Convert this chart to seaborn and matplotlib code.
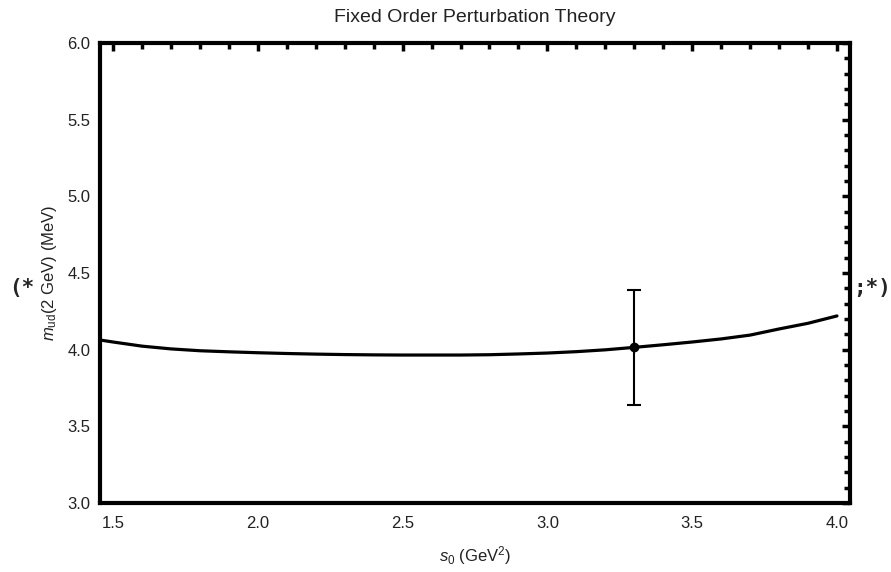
import numpy as np
import pandas as pd
import matplotlib
matplotlib.use("Agg")
import matplotlib.pyplot as plt
import seaborn as sns

# ---- data ----
s0_values = [1.455, 1.5, 1.6, 1.7, 1.8, 1.9, 2.0, 2.1, 2.2, 2.3, 2.4, 2.5, 2.6, 2.7,
             2.8, 2.9, 3.0, 3.1, 3.2, 3.3, 3.4, 3.5, 3.6, 3.7, 3.8, 3.9, 4.0]
m_ud_values = [4.063, 4.05, 4.023, 4.005, 3.993, 3.986, 3.980, 3.975, 3.971, 3.968,
               3.966, 3.965, 3.965, 3.965, 3.967, 3.972, 3.978, 3.987, 3.999, 4.015,
               4.032, 4.05, 4.07, 4.095, 4.135, 4.172, 4.22]
point_s0 = [3.3]
point_m = [4.015]
point_err = [0.375]
x_ticks = [1.5, 2.0, 2.5, 3.0, 3.5, 4.0]
y_ticks = [3.0, 3.5, 4.0, 4.5, 5.0, 5.5, 6.0]

sns.set_style("white")
plt.rcParams['font.family'] = ['Liberation Sans', 'DejaVu Sans']
plt.rcParams['mathtext.fontset'] = 'custom'
plt.rcParams['mathtext.rm'] = 'Liberation Sans'
plt.rcParams['mathtext.it'] = 'Liberation Sans:italic'

fig = plt.figure(figsize=(8.91, 5.72), dpi=100)
ax = fig.add_axes([100/891, 1-503/572, 750/891, 460/572])

df = pd.DataFrame({"s0": s0_values, "m": m_ud_values})
sns.lineplot(data=df, x="s0", y="m", ax=ax, color="black", linewidth=2.3)
ax.errorbar(point_s0, point_m, yerr=point_err, fmt='o', color='black',
            markersize=6, elinewidth=1.5, capsize=5, capthick=1.5)

ax.set_xlim(1.455, 4.045)
ax.set_ylim(3.0, 6.0)
ax.set_xticks(x_ticks)
ax.set_yticks(y_ticks)
ax.set_xticklabels([f"{v:.1f}" for v in x_ticks])
ax.set_yticklabels([f"{v:.1f}" for v in y_ticks])
ax.set_xticks(np.arange(1.5, 4.05, 0.1), minor=True)
ax.set_yticks(np.arange(3.0, 6.01, 0.1), minor=True)
ax.tick_params(which='both', direction='in', top=True, right=True,
               color='black', labelsize=12, labelcolor='#222222')
ax.tick_params(which='major', length=6, width=2.5, pad=7)
ax.tick_params(axis='x', which='major', pad=9)
ax.tick_params(which='minor', length=4.5, width=2.5)
for sp in ax.spines.values():
    sp.set_linewidth(3)
    sp.set_color('black')

ax.set_xlabel(r"$s_0$ (GeV$^2$)", fontsize=12, labelpad=10, color='#222222')
ax.set_ylabel(r"$m_{\mathrm{ud}}$(2 GeV) (MeV)", fontsize=12, labelpad=6, color='#222222')
ax.set_title("Fixed Order Perturbation Theory", fontsize=14, pad=15, color='#222222')

fig.text(9/891, 1-288/572, "(*", fontsize=15, fontweight='bold',
         family='DejaVu Sans Mono', va='center', ha='left')
fig.text(853/891, 1-288/572, ";*)", fontsize=15, fontweight='bold',
         family='DejaVu Sans Mono', va='center', ha='left')

fig.savefig("out.png", dpi=100)
